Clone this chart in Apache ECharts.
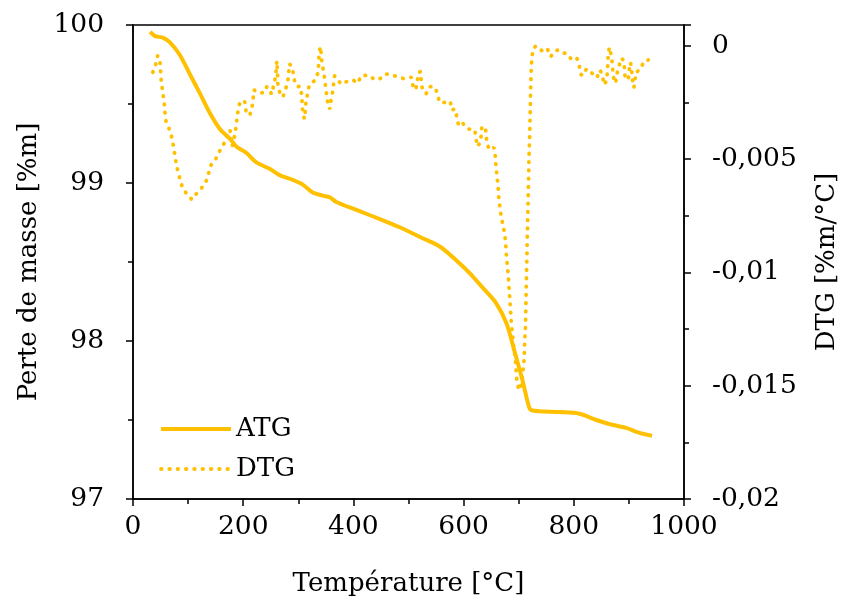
<!DOCTYPE html>
<html><head><meta charset="utf-8">
<script src="https://cdn.jsdelivr.net/npm/echarts@6/dist/echarts.min.js"></script>
<style>html,body{margin:0;padding:0;background:#fff}#c{width:841px;height:603px}</style>
</head><body><div id="c"></div>
<script>
// ATG: temperature [°C] and mass [%m]
const atgT = [31,40,54,67,85,103,121,140,158,176,188,206,224,248,266,290,308,326,344,357,369,405,442,484,520,556,587,611,634,659,678,692,707,719,725,774,810,841,864,895,918,942];
const atgV = [99.956,99.93,99.92,99.89,99.81,99.69,99.57,99.44,99.34,99.28,99.23,99.19,99.13,99.09,99.05,99.02,98.99,98.94,98.92,98.91,98.88,98.83,98.78,98.72,98.66,98.60,98.51,98.43,98.34,98.24,98.11,97.94,97.75,97.58,97.56,97.55,97.54,97.50,97.475,97.45,97.42,97.40];
// DTG: temperature [°C] and derivative [%m/°C], in groups of 10
const dtgT = [
 36,41.5,44.7,49,50,51,53,55,57,58,
 60,65.6,70,73,75.5,78,81,85,89,97,
 107,117,127,135,138,142.6,150,158,165,176,
 180,185,187,189,191,195,203,205,212,216,
 218,219.5,224,230,239,243,248,252,255,258.5,
 260,261,262,262.5,263,267,272,277,281,282.6,
 284,289,291.7,294,299,304,306,307,308,311,
 313,314,317,320,331,336,337,337.5,340,342,
 343,346,348,350,352,354,357,359,362,364,
 366,372,378,388,399,408,414,427,438,447,
 458,471,479,491,505,508,513,516,518,522,
 523,525,532,539,548,553,556,567,576,578,
 585,588,591,598,601,607,620,623,624,629,
 632,633,639.5,641,642.6,647,655,657.4,658.5,660,
 661.6,663,664,665.8,668,671,674,676,677,678,
 679.5,681,682,683,684,685,686,687,689,690,
 692,694,695,696,698,701,704,706,707,709,
 710,710.5,711,712,712.5,712.7,713,713.3,713.6,714,
 714.3,714.6,715,715.3,715.6,716,716.3,716.6,717,717.3,
 717.6,718,718.3,718.6,719,719.5,720,720.3,720.6,721,
 721.3,721.6,722,722.5,723,724,726,731,740,746,
 752,758,766,772,781,787,795,805,810,812,
 816,823,832,842,848,852,856,860,861,862,
 862.5,865,868,870,871,873,876,878,882,886,
 890,892,893,899,900,903,905,906,909,911,
 912.5,921,927,935
];
const dtgV = [
 -0.00116,-0.00079,-0.00043,-0.0007,-0.00109,-0.00147,-0.00186,-0.00223,-0.0026,-0.00296,
 -0.00333,-0.00366,-0.004,-0.00437,-0.00474,-0.00512,-0.00549,-0.00585,-0.0062,-0.00652,
 -0.00678,-0.00646,-0.0062,-0.00587,-0.00552,-0.0052,-0.005,-0.00461,-0.00432,-0.0037,
 -0.00443,-0.00392,-0.00355,-0.00318,-0.00279,-0.00242,-0.00247,-0.00285,-0.00307,-0.0027,
 -0.00233,-0.00194,-0.00201,-0.00208,-0.00205,-0.00179,-0.00198,-0.00213,-0.00176,-0.00138,
 -0.00103,-0.00066,-0.00103,-0.00138,-0.00176,-0.00211,-0.00226,-0.00191,-0.00154,-0.00116,
 -0.00079,-0.00094,-0.00131,-0.00167,-0.00179,-0.00179,-0.00216,-0.00252,-0.00289,-0.00322,
 -0.00282,-0.00245,-0.00208,-0.00172,-0.0015,-0.00116,-0.00079,-0.0004,-0.00003,-0.0004,
 -0.00079,-0.00113,-0.0015,-0.0019,-0.00226,-0.00263,-0.00279,-0.00245,-0.00208,-0.00169,
 -0.00132,-0.0015,-0.00169,-0.00157,-0.0015,-0.00164,-0.00132,-0.00129,-0.00147,-0.00147,
 -0.00123,-0.00129,-0.00135,-0.00144,-0.00138,-0.00175,-0.00194,-0.00157,-0.00117,-0.00113,
 -0.0015,-0.0019,-0.00211,-0.00179,-0.00182,-0.00213,-0.00248,-0.0025,-0.00245,-0.00282,
 -0.00279,-0.00316,-0.00352,-0.0034,-0.00333,-0.00366,-0.0037,-0.00407,-0.00443,-0.00432,
 -0.00396,-0.00358,-0.00358,-0.00396,-0.00433,-0.00458,-0.00448,-0.00485,-0.00524,-0.00561,
 -0.00598,-0.00634,-0.00674,-0.0071,-0.00749,-0.00785,-0.00822,-0.0086,-0.00899,-0.00935,
 -0.00972,-0.01012,-0.01048,-0.01085,-0.01122,-0.0116,-0.012,-0.01236,-0.01273,-0.0131,
 -0.01347,-0.01386,-0.01423,-0.0146,-0.01498,-0.0152,-0.01523,-0.01483,-0.01445,-0.01408,
 -0.01371,-0.01335,-0.01295,-0.01258,-0.01222,-0.01185,-0.01146,-0.01109,-0.01072,-0.01034,
 -0.00997,-0.00958,-0.00921,-0.00881,-0.00844,-0.00807,-0.00769,-0.00732,-0.00694,-0.00655,
 -0.00617,-0.0058,-0.00542,-0.00505,-0.00466,-0.00429,-0.00392,-0.00352,-0.00316,-0.00279,
 -0.00241,-0.00201,-0.00164,-0.00128,-0.00091,-0.00052,-0.00015,0,-0.00018,-0.00025,
 -0.00013,-0.00047,-0.00022,-0.00018,-0.00032,-0.00032,-0.00057,-0.0005,-0.00087,-0.00123,
 -0.00131,-0.00101,-0.00118,-0.0014,-0.00106,-0.00138,-0.00172,-0.00144,-0.00106,-0.00069,
 -0.00029,-0.00006,-0.00043,-0.00079,-0.00117,-0.00154,-0.00164,-0.00125,-0.00091,-0.00054,
 -0.00062,-0.00098,-0.00135,-0.0015,-0.00113,-0.00073,-0.00109,-0.00145,-0.00184,-0.00157,
 -0.00117,-0.00103,-0.00069,-0.00062
];
const xTicks = [0,200,400,600,800,1000];
const leftTicks = [97,98,99,100];
const rightTicks = [-0.02,-0.015,-0.01,-0.005,0];

const FONT = 'DejaVu Serif';
const GOLD = '#FFC000';
const fmtComma = v => String(+(+v).toFixed(4)).replace('.', ',');

const chart = echarts.init(document.getElementById('c'), null, {renderer:'canvas'});
const tickStyle = {color:'#000', width:1.5};
const axisCommon = {
  axisLine:{show:true, onZero:false, lineStyle:{color:'#000', width:1.5}},
  splitLine:{show:false},
  minorSplitLine:{show:false},
  nameTextStyle:{fontFamily:FONT, fontSize:26, color:'#000'},
  axisTick:{show:true, inside:false, length:7, lineStyle:tickStyle},
  minorTick:{show:true, splitNumber:2, length:5, lineStyle:tickStyle}
};
const lbl = {fontFamily:FONT, fontSize:26.5, color:'#000'};
const dotType = [0.5, 7.8];
chart.setOption({
  animation:false,
  backgroundColor:'#fff',
  grid:{left:133, right:157, top:25, bottom:104, show:true, borderColor:'#000', borderWidth:1.5,
        containLabel:false, outerBoundsMode:'none'},
  legend:{
    orient:'vertical', left:154, top:411, itemWidth:70, itemHeight:20, itemGap:14,
    itemStyle:{opacity:0},
    textStyle:{fontFamily:FONT, fontSize:26, color:'#000'},
    data:[{name:'ATG', lineStyle:{width:4}},
          {name:'DTG', lineStyle:{width:3.8, type:dotType, cap:'round'}}]
  },
  xAxis:Object.assign({}, axisCommon, {
    type:'value', min:xTicks[0], max:xTicks[xTicks.length-1], interval:200,
    name:'Température [°C]', nameLocation:'middle', nameGap:72,
    axisLabel:Object.assign({}, lbl, {margin:15, formatter: v => String(v)})
  }),
  yAxis:[
    Object.assign({}, axisCommon, {
      type:'value', min:leftTicks[0], max:leftTicks[leftTicks.length-1], interval:1, position:'left',
      name:'Perte de masse [%m]', nameLocation:'middle', nameGap:87, nameRotate:90,
      axisLabel:Object.assign({}, lbl, {margin:29, formatter: v => String(v)})
    }),
    Object.assign({}, axisCommon, {
      type:'value', min:rightTicks[0], max:0.000925, interval:0.005, position:'right',
      name:'DTG [%m/°C]', nameLocation:'middle', nameGap:130, nameRotate:90,
      axisLabel:Object.assign({}, lbl, {margin:28, showMaxLabel:false,
        formatter: v => (Math.abs(v/0.005 - Math.round(v/0.005)) < 1e-6 ? fmtComma(v) : '')})
    })
  ],
  series:[
    {name:'ATG', type:'line', yAxisIndex:0, showSymbol:false, symbol:'none', smooth:0.3,
     lineStyle:{color:GOLD, width:4}, itemStyle:{color:GOLD},
     data: atgT.map((t,i)=>[t, atgV[i]])},
    {name:'DTG', type:'line', yAxisIndex:1, showSymbol:false, symbol:'none',
     lineStyle:{color:GOLD, width:3.8, type:dotType, cap:'round'}, itemStyle:{color:GOLD},
     data: dtgT.map((t,i)=>[t, dtgV[i]])}
  ]
});
</script></body></html>
